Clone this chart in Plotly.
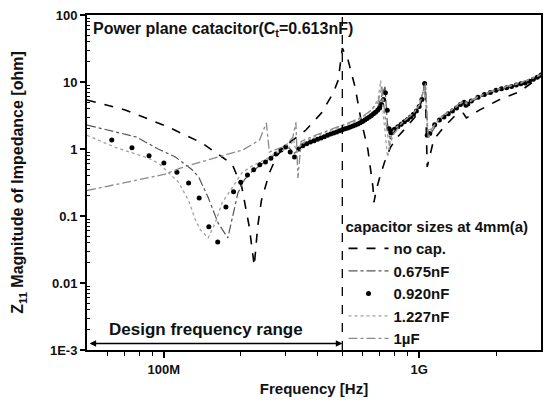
import math
import plotly.graph_objects as go

# ---------------- data (frequency in MHz, |Z11| in ohm) ----------------
f_nocap = [50, 71, 104, 141, 169, 185, 202, 216, 226, 233, 241, 259, 278, 309, 360, 414, 461, 482, 500,
           527, 561, 592, 630, 659, 665, 680, 701, 733, 773, 822, 900, 982, 1025, 1055, 1075, 1140, 1250,
           1400, 1490, 1530, 1720, 2050, 2460, 3000]
z_nocap = [5.4, 3.8, 2.13, 1.23, 0.76, 0.6, 0.27, 0.069, 0.018, 0.069, 0.17, 0.44, 0.81, 1.23, 1.92, 3.44, 6.9, 10.7, 32,
           21, 8.4, 2.7, 0.97, 0.27, 0.16, 0.25, 0.38, 0.65, 1.07, 1.5, 2.2, 3.3, 5.4, 10.0, 0.54, 1.37, 2.13,
           3.3, 3.4, 2.9, 3.8, 5.4, 7.1, 12.2]

f_c675 = [50, 62, 78, 95, 111, 129, 137, 149, 163, 178, 186, 195, 207, 220, 240, 260, 290, 310, 322, 335,
          350, 400, 450, 500, 550, 600, 650, 690, 720, 735, 750, 770, 790, 850, 900, 950, 1000, 1040, 1055,
          1080, 1100, 1200, 1350, 1490, 1530, 1700, 2000, 2500, 3000]
z_c675 = [2.28, 1.85, 1.51, 1.0, 0.76, 0.49, 0.38, 0.19, 0.079, 0.047, 0.097, 0.22, 0.35, 0.45, 0.58, 0.72, 0.98, 1.05, 0.85, 0.95,
          1.12, 1.42, 1.7, 1.95, 2.25, 2.65, 3.3, 4.3, 6.5, 8.5, 2.5, 1.4, 1.8, 2.35, 2.8, 3.3, 4.4, 7.5, 9.0,
          1.6, 1.6, 2.7, 3.7, 4.9, 4.4, 5.8, 7.4, 9.4, 12.5]

f_c920 = [62.5, 75, 87.5, 100, 112.5, 125, 137.5, 150, 162.5, 175, 187.5, 200, 212.5, 225, 237.5, 250,
          262.5, 275, 287.5, 300, 312.5, 325, 337.5, 350, 362.5, 375, 387.5, 400, 412.5, 425, 437.5, 450,
          462.5, 475, 487.5, 500, 512.5, 525, 537.5, 550, 562.5, 575, 587.5, 600, 612.5, 625, 637.5, 650,
          662.5, 675, 687.5, 700, 712.5, 725, 737.5, 750, 762.5, 775, 787.5, 800, 825, 850, 875, 900, 925,
          950, 975, 1000, 1025, 1050, 1075, 1100, 1150, 1200, 1250, 1300, 1350, 1400, 1450, 1500, 1525,
          1550, 1600, 1700, 1800, 1900, 2000, 2100, 2200, 2300, 2400, 2500, 2600, 2700, 2800, 2900, 3000]
z_c920 = [1.36, 1.04, 0.79, 0.62, 0.45, 0.31, 0.186, 0.069, 0.041, 0.136, 0.23, 0.32, 0.41, 0.49, 0.58, 0.64,
          0.73, 0.84, 0.97, 1.07, 0.9, 0.76, 1.0, 1.12, 1.2, 1.27, 1.33, 1.4, 1.46, 1.53, 1.6, 1.68,
          1.74, 1.8, 1.87, 1.93, 2.0, 2.06, 2.13, 2.2, 2.28, 2.37, 2.47, 2.58, 2.7, 2.85, 3.0, 3.17,
          3.35, 3.55, 3.8, 4.1, 4.6, 5.5, 6.9, 3.8, 2.0, 1.75, 1.85, 1.97, 2.15, 2.35, 2.55, 2.75, 3.0,
          3.3, 3.7, 4.3, 5.5, 9.5, 1.6, 1.7, 2.3, 2.7, 3.0, 3.35, 3.7, 4.1, 4.6, 5.0, 4.5,
          4.7, 5.2, 5.9, 6.5, 7.0, 7.5, 7.9, 8.2, 8.6, 9.0, 9.4, 9.7, 10.3, 11.0, 11.8, 12.7]

f_c1227 = [50, 64, 87, 96, 114, 125, 133, 139, 149, 159, 169, 185, 202, 220, 250, 280, 310, 322, 330, 345,
           400, 450, 500, 550, 600, 650, 690, 707, 725, 752, 775, 800, 850, 900, 950, 1000, 1040, 1055,
           1080, 1120, 1200, 1350, 1490, 1530, 1700, 2000, 2500, 3000]
z_c1227 = [1.6, 1.07, 0.73, 0.6, 0.32, 0.17, 0.087, 0.062, 0.047, 0.079, 0.156, 0.27, 0.44, 0.55, 0.7, 0.9, 1.05, 1.4, 0.9, 1.2,
           1.6, 1.9, 2.2, 2.5, 2.95, 3.8, 5.5, 10.5, 3.0, 0.76, 1.5, 2.0, 2.4, 2.9, 3.4, 4.5, 7.0, 8.5,
           1.9, 2.0, 2.8, 3.9, 5.1, 4.7, 6.0, 7.6, 9.6, 12.8]

f_c1u = [50, 64, 87, 101, 116, 140, 169, 204, 237, 252, 259, 280, 300, 320, 329, 335, 345,
         400, 450, 500, 550, 600, 650, 690, 715, 740, 765, 790, 850, 900, 950, 1000, 1040, 1060,
         1085, 1120, 1200, 1350, 1490, 1530, 1700, 2000, 2500, 3000]
z_c1u = [0.24, 0.29, 0.37, 0.42, 0.52, 0.64, 0.78, 0.97, 1.36, 2.45, 0.9, 1.0, 1.12, 1.5, 2.5, 0.37, 1.3,
         1.65, 1.95, 2.25, 2.6, 3.05, 3.8, 5.0, 8.5, 2.5, 1.1, 1.6, 2.4, 2.9, 3.4, 4.5, 7.2, 9.5,
         1.4, 2.0, 2.9, 4.0, 5.3, 4.9, 6.1, 7.8, 9.8, 13.0]

design_band = [50, 500]          # MHz
x_ticks = [100, 1000]            # MHz
x_ticktext = ["100M", "1G"]
y_ticks = [1e-3, 0.01, 0.1, 1, 10, 100]
y_ticktext = ["1E-3", "0.01", "0.1", "1", "10", "100"]

MHZ = 1e6
def hz(lst):
    return [v * MHZ for v in lst]

FONT = "Liberation Sans, Arial, sans-serif"

def b(t):
    return "<b>" + t + "</b>"

fig = go.Figure()
fig.add_trace(go.Scatter(x=hz(f_nocap), y=z_nocap, mode="lines", name=b("no cap."),
                         line=dict(color="black", width=1.6, dash="dash")))
fig.add_trace(go.Scatter(x=hz(f_c675), y=z_c675, mode="lines", name=b("0.675nF"),
                         line=dict(color="#555555", width=1.2, dash="dashdot")))
fig.add_trace(go.Scatter(x=hz(f_c920), y=z_c920, mode="markers", name=b("0.920nF"),
                         marker=dict(color="black", size=5, symbol="circle")))
fig.add_trace(go.Scatter(x=hz(f_c1227), y=z_c1227, mode="lines", name=b("1.227nF"),
                         line=dict(color="#a0a0a0", width=1.3, dash="dot")))
fig.add_trace(go.Scatter(x=hz(f_c1u), y=z_c1u, mode="lines", name=b("1\u00b5F"),
                         line=dict(color="#8a8a8a", width=1.3, dash="dashdot")))

# vertical dashed line at the end of the design band
fig.add_trace(go.Scatter(x=hz([design_band[1], design_band[1]]), y=[y_ticks[0], y_ticks[-1]],
                         mode="lines", showlegend=False, hoverinfo="skip",
                         line=dict(color="black", width=1.3, dash="dash")))

minor_x = []
for dec in [1e7, 1e8, 1e9]:
    for k in range(2, 10):
        v = k * dec
        if 5e7 < v < 3e9 and v not in (1e8, 1e9):
            minor_x.append(v)
minor_y = [k * d for d in [1e-3, 1e-2, 1e-1, 1, 10] for k in range(2, 10)]

fig.update_layout(
    width=546, height=405,
    margin=dict(l=87, r=3, t=15, b=55),
    paper_bgcolor="white", plot_bgcolor="white",
    font=dict(family=FONT, size=13, color="#111111"),
    xaxis=dict(type="log", range=[math.log10(5e7), math.log10(3e9)],
               tickvals=hz(x_ticks), ticktext=[b(t) for t in x_ticktext],
               ticks="outside", ticklen=6, tickwidth=1.5, tickcolor="black",
               showline=True, linewidth=2, linecolor="black", mirror=True,
               showgrid=False, zeroline=False,
               tickfont=dict(size=13),
               minor=dict(tickvals=minor_x, ticks="outside", ticklen=4, tickwidth=1.2, tickcolor="black", showgrid=False),
               title=dict(text=b("Frequency [Hz]"), font=dict(size=15), standoff=8)),
    yaxis=dict(type="log", range=[-3, 2],
               tickvals=y_ticks, ticktext=[b(t) for t in y_ticktext],
               ticks="outside", ticklen=5, tickwidth=1.5, tickcolor="black",
               showline=True, linewidth=2, linecolor="black", mirror=True,
               showgrid=False, zeroline=False,
               tickfont=dict(size=13),
               minor=dict(tickvals=minor_y, ticks="inside", ticklen=3, tickwidth=1, tickcolor="black", showgrid=False),
               title=dict(text=b("Z<sub>11</sub> Magnitude of Impedance [ohm]"), font=dict(size=16), standoff=22)),
    legend=dict(x=0.565, y=0.41, xanchor="left", yanchor="top",
                bgcolor="rgba(0,0,0,0)", borderwidth=0,
                font=dict(size=15, family=FONT),
                title=dict(text=b("capacitor sizes at 4mm(a)"), font=dict(size=15, family=FONT)),
                tracegroupgap=0, itemwidth=40),
    showlegend=True,
)

fig.add_annotation(text=b("Power plane catacitor(C<sub>t</sub>=0.613nF)"), xref="paper", yref="paper",
                   x=0.008, y=0.99, xanchor="left", yanchor="top", showarrow=False,
                   font=dict(size=16, family=FONT))
fig.add_annotation(text=b("Design frequency range"), xref="paper", yref="paper",
                   x=0.262, y=0.06, xanchor="center", yanchor="middle", showarrow=False,
                   font=dict(size=17, family=FONT))
arrow_y = math.log10(1.25e-3)
fig.add_annotation(text="", xref="x", yref="y", axref="x", ayref="y",
                   x=math.log10(design_band[1] * MHZ), y=arrow_y,
                   ax=math.log10(design_band[0] * MHZ * 1.01), ay=arrow_y,
                   showarrow=True, arrowside="end+start", arrowhead=2, arrowsize=1,
                   arrowwidth=1.3, arrowcolor="black", standoff=0, startstandoff=0)

fig.write_html("out.html")
